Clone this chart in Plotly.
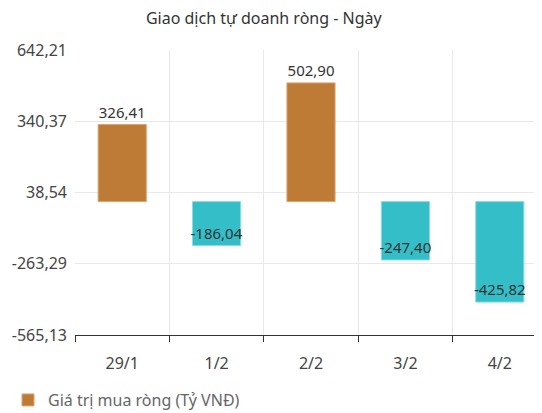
import plotly.graph_objects as go

categories = ["29/1", "1/2", "2/2", "3/2", "4/2"]
values = [326.41, -186.04, 502.90, -247.40, -425.82]
labels = ["326,41", "-186,04", "502,90", "-247,40", "-425,82"]
y_ticks = [642.21, 340.37, 38.54, -263.29, -565.13]
y_tick_labels = ["642,21", "340,37", "38,54", "-263,29", "-565,13"]

POS, NEG = "#BD7B36", "#33BEC8"
POS_LINE, NEG_LINE = "#D9A571", "#8ADCE1"

colors = [POS if v >= 0 else NEG for v in values]
line_colors = [POS_LINE if v >= 0 else NEG_LINE for v in values]
positions = ["outside" if v >= 0 else "inside" for v in values]

FONT = "Noto Sans"

fig = go.Figure(go.Bar(
    x=categories, y=values, text=labels,
    textposition=positions, insidetextanchor="end", textangle=0,
    textfont=dict(family=FONT, size=15, color="#333333"),
    insidetextfont=dict(family=FONT, size=15, color="#333333"),
    outsidetextfont=dict(family=FONT, size=15, color="#333333"),
    marker=dict(color=colors, line=dict(color=line_colors, width=1)),
    cliponaxis=False,
    name="Giá trị mua ròng (Tỷ VNĐ)", showlegend=True,
))

# the page body has an 8px margin, so the figure is sized to fill the rest
fig.update_layout(
    width=534, height=405,
    margin=dict(l=67, r=0, t=42, b=78, autoexpand=False),
    paper_bgcolor="white", plot_bgcolor="white",
    font=dict(family=FONT, color="#444444"),
    bargap=0.49,
    uniformtext=dict(minsize=15, mode="show"),
    title=dict(text="Giao dịch tự doanh ròng - Ngày", x=0.479, xref="container",
               xanchor="center", y=0.975, yanchor="middle",
               font=dict(family=FONT, size=16, color="#333333")),
    legend=dict(orientation="h", x=-0.04, xanchor="left", y=0.032, yanchor="middle",
                xref="container", yref="container",
                font=dict(family=FONT, size=16, color="#666666"),
                bgcolor="rgba(0,0,0,0)"),
)

fig.update_xaxes(
    type="category", range=[-0.5, 4.447], tickson="boundaries", automargin=False,
    showgrid=True, gridcolor="#E8E8E8", gridwidth=1,
    showline=True, linecolor="#333333", linewidth=1,
    ticks="outside", ticklen=6, tickcolor="#333333",
    tickfont=dict(family=FONT, size=16, color="#444444"),
    ticklabelstandoff=14, zeroline=False,
)
fig.update_yaxes(
    range=[-565.13, 642.21], tickvals=y_ticks, ticktext=y_tick_labels, automargin=False,
    showgrid=True, gridcolor="#E8E8E8", gridwidth=1,
    zeroline=False, showline=False, ticks="",
    tickfont=dict(family=FONT, size=16, color="#444444"),
    ticklabelstandoff=7,
)

fig.write_html("out.html")
